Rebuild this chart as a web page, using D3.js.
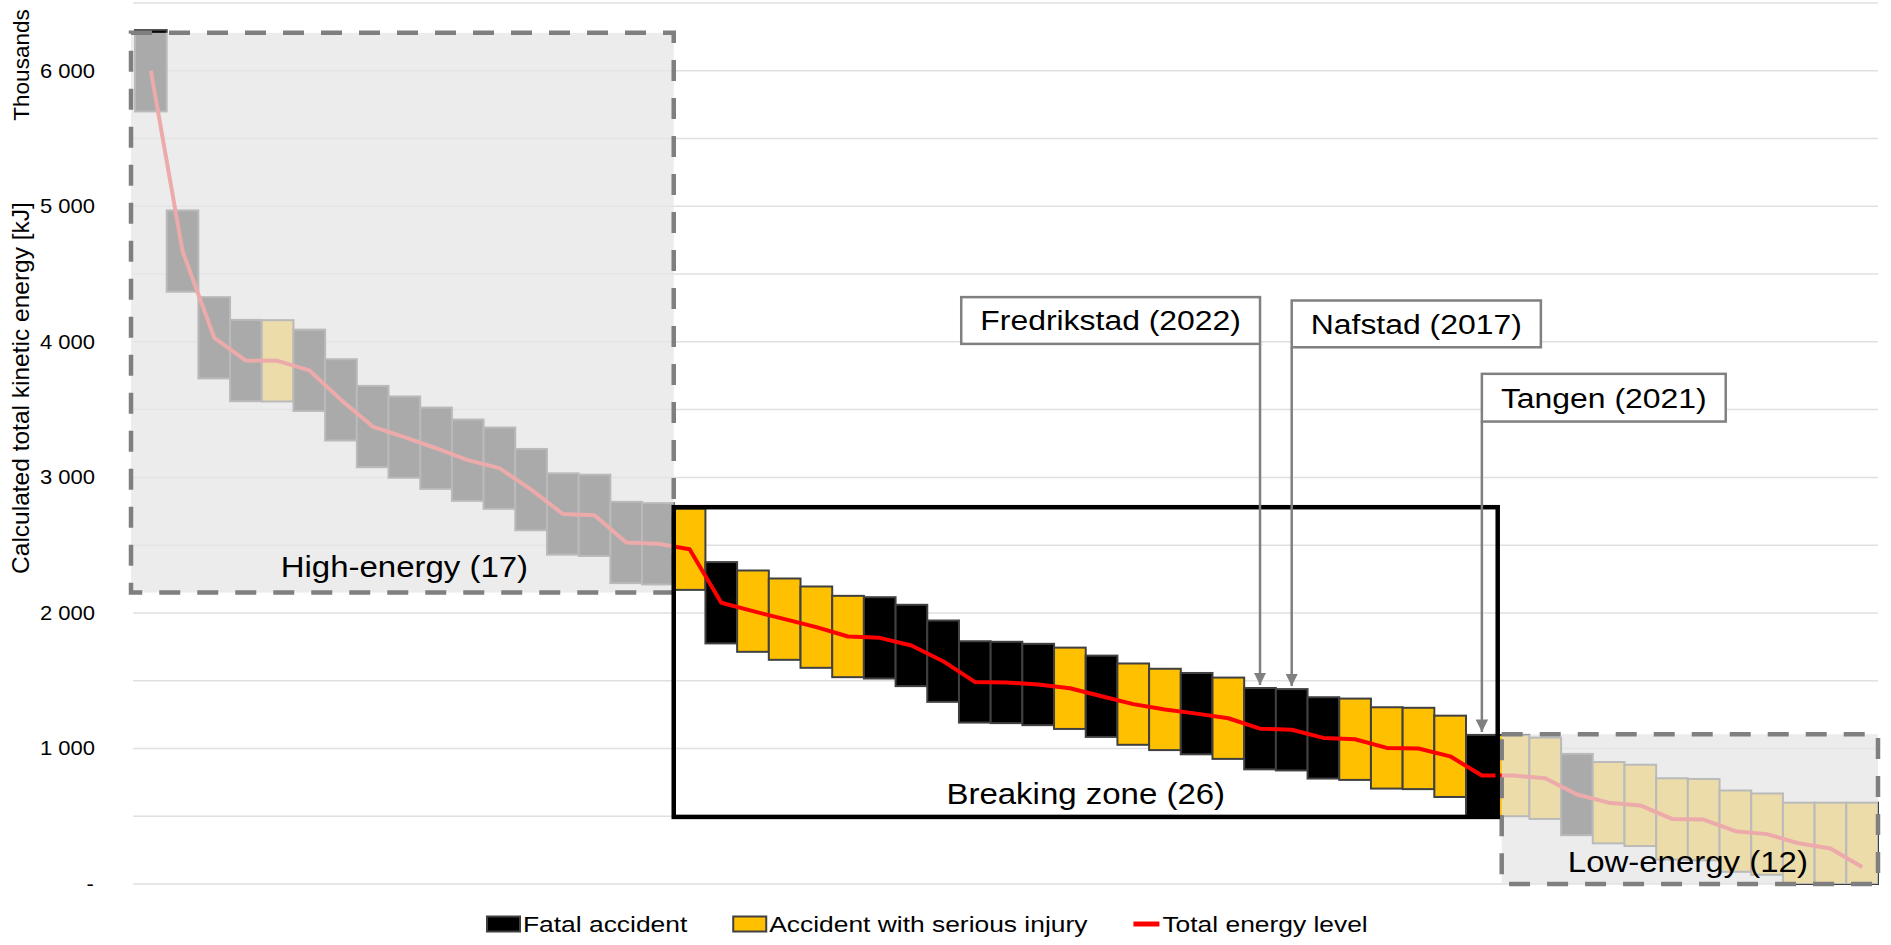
<!DOCTYPE html>
<html><head><meta charset="utf-8">
<script src="https://cdn.jsdelivr.net/npm/d3@7"></script>
<style>
html,body{margin:0;padding:0;background:#fff;}
svg{display:block;font-family:"Liberation Sans",Arial,Helvetica,sans-serif;}
</style>
</head><body>
<svg id="chart" width="1891" height="945"></svg>
<script>
// ---------------- data ----------------
const categories = d3.range(1, 56).map(String);
const energy = [
  6000, 4670, 4030, 3862, 3860, 3790, 3572, 3375, 3297, 3215, 3127, 3068, 2910, 2730, 2720, 2520, 2510,
  2470, 2075, 2013, 1954, 1895, 1826, 1816, 1760, 1644, 1491, 1487, 1472, 1444, 1385, 1327, 1288, 1257,
  1223, 1146, 1138, 1078, 1068, 1004, 1000, 942, 800,
  800, 780, 660, 600, 580, 480, 475, 390, 368, 300, 262, 125
];
const accidentType = [
  "F","F","F","F","S","F","F","F","F","F","F","F","F","F","F","F","F",
  "S","F","S","S","S","S","F","F","F","F","F","F","S","F","S","S","F","S","F","F","F","S","S","S","S","F",
  "S","S","F","S","S","S","S","S","S","S","S","S"
];
const boxSpan = 600;            // each accident box spans 600 (thousand kJ)
const yTicks = [0, 1000, 2000, 3000, 4000, 5000, 6000];
const yGrid = d3.range(0, 6501, 500);
const zoneNames = ["High-energy (17)", "Breaking zone (26)", "Low-energy (12)"];
const zoneFirst = [0, 17, 43];
const zoneLast = [16, 42, 54];
const zoneTop = [6280, 2780, 1105];
const zoneBottom = [2150, 495, 0];
const annNames = ["Fredrikstad (2022)", "Nafstad (2017)", "Tangen (2021)"];
const annTarget = [35, 36, 42];
const annTop = [4330, 4305, 3764];
const annBottom = [3985, 3960, 3412];
const annSide = ["left", "right", "right"];
const legendLabels = ["Fatal accident", "Accident with serious injury", "Total energy level"];
const yTitle = "Calculated total kinetic energy [kJ]";
const yUnit = "Thousands";

// ---------------- setup ----------------
const svg = d3.select("#chart");
const x = d3.scaleBand().domain(categories).range([135, 1878]).padding(0);
const y = d3.scaleLinear().domain([0, 6500]).range([884, 3]);
const bw = x.bandwidth();
const cx = i => x(categories[i]) + bw / 2;
const boxBase = v => Math.max(0, v - boxSpan / 2);

function stext(parent, tx, ty, str, size, anchor, stretch) {
  return parent.append("text")
    .attr("transform", `translate(${tx},${ty}) scale(${stretch},1)`)
    .attr("text-anchor", anchor)
    .style("font-size", size + "px")
    .attr("fill", "#000")
    .text(str);
}

// gridlines
svg.append("g").selectAll("line").data(yGrid).join("line")
  .attr("x1", 133).attr("x2", 1878)
  .attr("y1", d => y(d)).attr("y2", d => y(d))
  .attr("stroke", "#e0e0e0").attr("stroke-width", 1.5);

// y axis
const axis = svg.append("g").attr("transform", "translate(95,0)")
  .call(d3.axisLeft(y).tickValues(yTicks).tickSize(0).tickPadding(0)
    .tickFormat(d => d === 0 ? "-" : d3.format(",")(d).replace(/,/g, " ")));
axis.select(".domain").remove();
axis.selectAll("text")
  .attr("x", d => d === 0 ? -1 : 0)
  .attr("transform", "scale(1.1,1)")
  .style("font-size", "20px").style("font-family", "'Liberation Sans',Arial,sans-serif")
  .attr("fill", "#000").attr("text-anchor", "end");

// axis titles
svg.append("text").attr("transform", "translate(29,388) rotate(-90)")
  .attr("text-anchor", "middle").style("font-size", "24.5px").text(yTitle);
svg.append("text").attr("transform", "translate(29,65) rotate(-90)")
  .attr("text-anchor", "middle").style("font-size", "22.5px").text(yUnit);

// boxes
svg.append("g").selectAll("rect").data(energy).join("rect")
  .attr("x", (d, i) => x(categories[i]))
  .attr("width", bw)
  .attr("y", d => y(boxBase(d) + boxSpan))
  .attr("height", d => y(boxBase(d)) - y(boxBase(d) + boxSpan))
  .attr("fill", (d, i) => accidentType[i] === "F" ? "#000000" : "#FFC000")
  .attr("stroke", "#404040").attr("stroke-width", 2);

// energy line
svg.append("path").datum(energy)
  .attr("d", d3.line().x((d, i) => cx(i)).y(d => y(d)))
  .attr("fill", "none").attr("stroke", "#ff0000").attr("stroke-width", 4)
  .attr("stroke-linejoin", "round");

// zones
const zoneG = svg.append("g");
[0, 2].forEach(z => {
  const x0 = x(categories[zoneFirst[z]]) + (z === 0 ? -4 : 4);
  const x1 = x(categories[zoneLast[z]]) + bw;
  zoneG.append("rect").attr("x", x0).attr("y", y(zoneTop[z]))
    .attr("width", x1 - x0).attr("height", y(zoneBottom[z]) - y(zoneTop[z]))
    .attr("fill", "rgb(229,229,229)").attr("fill-opacity", 0.74);
  zoneG.append("rect").attr("x", x0).attr("y", y(zoneTop[z]))
    .attr("width", x1 - x0).attr("height", y(zoneBottom[z]) - y(zoneTop[z]))
    .attr("fill", "none").attr("stroke", "#7f7f7f").attr("stroke-width", 4.5)
    .attr("stroke-dasharray", "21,17");
});
{
  const x0 = x(categories[zoneFirst[1]]);
  const x1 = x(categories[zoneLast[1]]) + bw;
  zoneG.append("rect").attr("x", x0).attr("y", y(zoneTop[1]))
    .attr("width", x1 - x0).attr("height", y(zoneBottom[1]) - y(zoneTop[1]))
    .attr("fill", "none").attr("stroke", "#000").attr("stroke-width", 4.5);
}
// zone labels
const zoneLabelOffset = [16, 13, 12];
zoneNames.forEach((name, z) => {
  const x0 = x(categories[zoneFirst[z]]);
  const x1 = x(categories[zoneLast[z]]) + bw;
  stext(svg, (x0 + x1) / 2, y(zoneBottom[z]) - zoneLabelOffset[z], name, 30, "middle", 1.1);
});

// annotations
const defs = svg.append("defs");
defs.append("marker").attr("id", "arrow").attr("viewBox", "0 0 10 10")
  .attr("refX", 10).attr("refY", 5).attr("markerWidth", 5).attr("markerHeight", 5)
  .attr("markerUnits", "strokeWidth").attr("orient", "auto")
  .append("path").attr("d", "M0,0 L10,5 L0,10 z").attr("fill", "#808080");

annNames.forEach((name, k) => {
  const ax = cx(annTarget[k]);
  const g = svg.append("g");
  svg.append("line")
    .attr("x1", ax).attr("x2", ax)
    .attr("y1", y(annBottom[k])).attr("y2", y(energy[annTarget[k]] + boxSpan / 2) - 3)
    .attr("stroke", "#808080").attr("stroke-width", 2.5)
    .attr("marker-end", "url(#arrow)");
  const stretch = 1.14;
  const t = g.append("text").style("font-size", "28px").text(name);
  const tw = t.node().getComputedTextLength() * stretch;
  t.remove();
  const wbox = tw + 38;
  const bx = annSide[k] === "left" ? ax - wbox : ax;
  const by0 = y(annTop[k]), by1 = y(annBottom[k]);
  g.append("rect").attr("x", bx).attr("y", by0).attr("width", wbox).attr("height", by1 - by0)
    .attr("fill", "#fff").attr("stroke", "#808080").attr("stroke-width", 2.5);
  stext(g, bx + wbox / 2, (by0 + by1) / 2 + 10, name, 28, "middle", stretch);
});

// legend
const lg = svg.append("g");
let lx = 487;
const ly = 924;
legendLabels.forEach((lab, k) => {
  if (k < 2) {
    lg.append("rect").attr("x", lx).attr("y", ly - 7.5).attr("width", 33).attr("height", 15)
      .attr("fill", k === 0 ? "#000" : "#FFC000").attr("stroke", "#404040").attr("stroke-width", 2);
    lx += 36;
  } else {
    lg.append("line").attr("x1", lx).attr("x2", lx + 26).attr("y1", ly).attr("y2", ly)
      .attr("stroke", "#ff0000").attr("stroke-width", 5);
    lx += 29;
  }
  const t = stext(lg, lx, ly + 8, lab, 22, "start", 1.2);
  lx += t.node().getComputedTextLength() * 1.2 + 46;
});
</script>
</body></html>
